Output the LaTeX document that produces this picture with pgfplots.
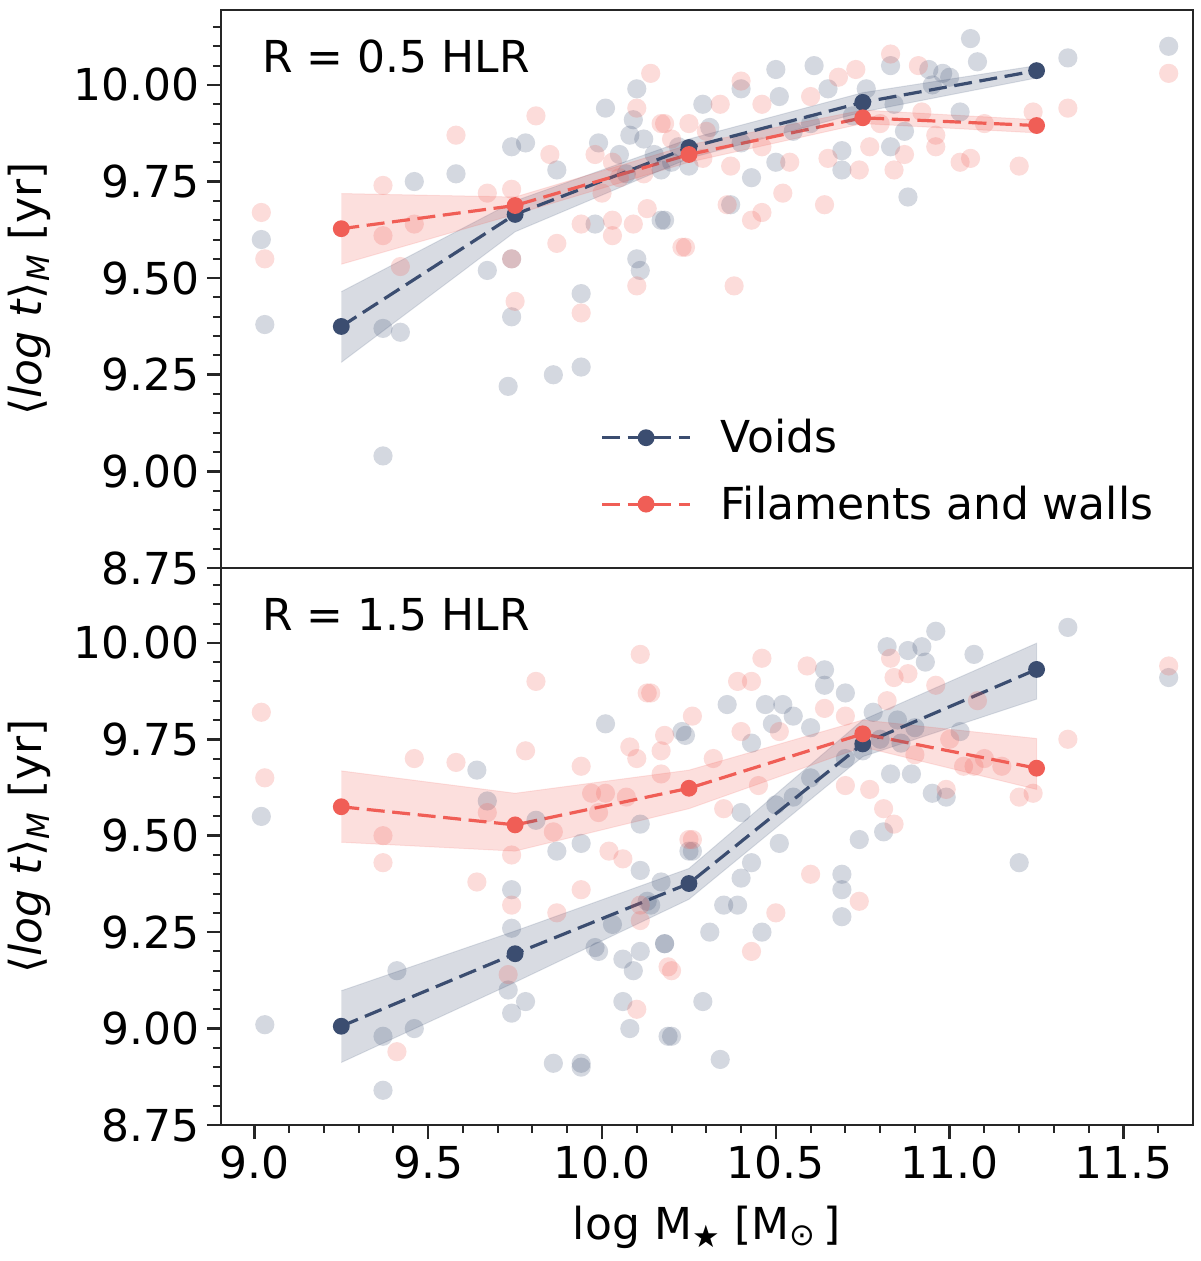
\documentclass[border=0pt]{standalone}
\usepackage{pgfplots}
\pgfplotsset{compat=1.18}
\usepackage{fontspec}
\setmainfont{DejaVu Sans}
\definecolor{navy}{RGB}{59,77,112}
\definecolor{redc}{RGB}{240,94,86}
\newcommand\fs{\fontsize{22}{26}\selectfont}
\pgfplotsset{
  panel/.style={
    scale only axis, width=486pt, anchor=south west,
    xmin=8.904, xmax=11.70, ymin=8.75, ymax=10.194,
    axis line style={line width=1pt, color=black!85},
    tick align=outside, xtick pos=bottom, ytick pos=left,
    major tick length=7pt, minor tick length=4pt,
    major tick style={line width=1.3pt, color=black!85},
    minor tick style={line width=1pt, color=black!85},
    ytick={8.75,9,9.25,9.5,9.75,10},
    minor ytick={8.8,8.85,8.9,8.95,9.05,9.1,9.15,9.2,9.3,9.35,9.4,9.45,9.55,9.6,9.65,9.7,9.8,9.85,9.9,9.95,10.05,10.1,10.15},
    yticklabel style={font=\fs, /pgf/number format/.cd, fixed, fixed zerofill, precision=2, assume math mode=true},
    xtick={9,9.5,10,10.5,11,11.5},
    minor xtick={9.1,9.2,9.3,9.4,9.6,9.7,9.8,9.9,10.1,10.2,10.3,10.4,10.6,10.7,10.8,10.9,11.1,11.2,11.3,11.4,11.6},
    xticklabel style={font=\fs, /pgf/number format/.cd, fixed, fixed zerofill, precision=1, assume math mode=true},
    ylabel={⟨\textit{log t}⟩\textsubscript{\textit{M}} [yr]},
    ylabel style={font=\fs, at={(axis description cs:-0.197,0.5)}, anchor=center, rotate=0},
    clip=true,
  },
  scat/.style={only marks, color=#1, mark=*, mark size=4.8pt, mark options={draw opacity=0, line width=0pt, fill=#1, fill opacity=0.22}, forget plot},
  band/.style={fill=#1, fill opacity=0.2, draw=#1, draw opacity=0.15, line width=0.5pt, forget plot},
  med/.style={color=#1, line width=1.6pt, dash pattern=on 9pt off 3.8pt, mark=*, mark size=3.4pt, mark options={solid, fill=#1, draw=#1}},
}
\begin{document}
\begin{tikzpicture}
% ---------------- top panel ----------------
\begin{axis}[panel, at={(110.5pt,346.5pt)}, height=279pt,
  xticklabels={}, xtick=\empty, minor xtick={},
  legend style={draw=none, fill=none, font=\fs, at={(rel axis cs:0.39,0.274)}, anchor=north west, inner sep=0pt, row sep=11pt},
  legend cell align=left,
  legend image code/.code={\draw[mark repeat=2, mark phase=2, #1] plot coordinates {(0pt,0pt) (22pt,0pt) (44pt,0pt)};},
]
\addplot[scat=navy] coordinates {
(9.02,9.60) (9.03,9.38) (9.37,9.04) (9.37,9.37) (9.42,9.36) (9.46,9.75) (9.58,9.77) (9.74,9.84) (9.78,9.85)
(9.67,9.52) (9.74,9.55) (10.10,9.55) (10.11,9.52) (9.94,9.46) (9.74,9.40) (10.01,9.94) (10.10,9.99) (10.09,9.91)
(9.87,9.78) (9.98,9.64) (10.18,9.65) (10.17,9.78) (9.99,9.85) (10.08,9.87) (10.25,9.79) (9.73,9.22) (9.86,9.25)
(9.94,9.27) (11.06,10.12) (11.34,10.07) (11.63,10.10) (11.08,10.06) (10.50,10.04) (10.61,10.05) (10.29,9.95)
(10.40,9.99) (10.51,9.97) (10.83,10.05) (10.76,9.99) (10.98,10.03) (11.03,9.93) (10.88,9.71) (10.43,9.76)
(10.37,9.69) (10.17,9.65) (10.69,9.78) (10.69,9.83) (10.83,9.84) (10.87,9.88) (10.65,9.99) (10.84,9.95)
(10.94,10.04) (10.31,9.89) (10.05,9.82) (10.12,9.86) (10.07,9.77) (10.20,9.80) (10.40,9.85) (10.55,9.88)
(10.50,9.80) (10.95,10.00) (11.00,10.02) (10.72,9.92) (10.60,9.90) (10.22,9.84) (10.15,9.82)
};
\addplot[scat=redc] coordinates {
(9.02,9.67) (9.03,9.55) (9.37,9.74) (9.37,9.61) (9.46,9.64) (9.42,9.53) (9.58,9.87) (9.67,9.72) (9.74,9.73)
(9.74,9.55) (9.75,9.44) (9.81,9.92) (9.85,9.82) (9.87,9.59) (9.94,9.41) (9.94,9.64) (10.03,9.65) (10.03,9.61)
(10.09,9.64) (10.10,9.48) (10.13,9.68) (10.14,10.03) (10.10,9.94) (10.18,9.90) (10.24,9.58) (9.98,9.82)
(10.03,9.80) (10.25,9.90) (10.83,10.08) (11.63,10.03) (11.34,9.94) (11.24,9.93) (11.20,9.79) (11.06,9.81)
(11.03,9.80) (10.96,9.84) (10.91,10.05) (10.73,10.04) (10.68,10.02) (10.40,10.01) (10.17,9.90) (10.34,9.95)
(10.46,9.95) (10.60,9.97) (10.23,9.58) (10.43,9.65) (10.46,9.67) (10.52,9.72) (10.64,9.69) (10.38,9.48)
(10.36,9.69) (10.74,9.78) (10.77,9.84) (10.84,9.78) (10.87,9.82) (10.65,9.81) (10.54,9.80) (10.29,9.81)
(10.37,9.79) (10.46,9.84) (10.96,9.87) (10.92,9.93) (10.12,9.77) (10.05,9.76) (10.20,9.86) (10.30,9.88)
(10.00,9.72) (10.80,9.90) (11.10,9.90)
};
\addplot[band=navy] coordinates {(9.25,9.465) (9.75,9.70) (10.25,9.86) (10.75,9.98) (11.25,10.05) (11.25,10.018) (10.75,9.93) (10.25,9.81) (9.75,9.62) (9.25,9.282)};
\addplot[band=redc] coordinates {(9.25,9.719) (9.75,9.71) (10.25,9.845) (10.75,9.935) (11.25,9.91) (11.25,9.876) (10.75,9.90) (10.25,9.80) (9.75,9.665) (9.25,9.536)};
\addplot[med=navy] coordinates {(9.25,9.375) (9.75,9.665) (10.25,9.838) (10.75,9.955) (11.25,10.037)};
\addlegendentry{\hspace{12.5pt}Voids}
\addplot[med=redc] coordinates {(9.25,9.628) (9.75,9.688) (10.25,9.820) (10.75,9.915) (11.25,9.895)};
\addlegendentry{\hspace{12.5pt}Filaments and walls}
\node[font=\fs, anchor=west, inner sep=0pt] at (rel axis cs:0.042,0.916) {R = 0.5 HLR};
\end{axis}
% ---------------- bottom panel ----------------
\begin{axis}[panel, at={(110.5pt,68pt)}, height=278.5pt,
  xlabel={log M\textsubscript{★} [M\textsubscript{⊙}\,]},
  xlabel style={font=\fs, at={(axis description cs:0.5,-0.145)}, anchor=north, inner sep=0pt},
]
\addplot[scat=navy] coordinates {
(9.02,9.55) (9.03,9.01) (9.64,9.67) (9.67,9.59) (9.81,9.54) (9.87,9.46) (9.94,9.48) (10.01,9.79) (10.24,9.76)
(10.11,9.53) (10.11,9.41) (9.74,9.36) (9.74,9.26) (9.73,9.10) (9.78,9.07) (9.74,9.04) (9.41,9.15) (9.37,8.98)
(9.46,9.00) (9.37,8.84) (9.86,8.91) (9.94,8.91) (9.94,8.90) (9.98,9.21) (9.99,9.20) (10.03,9.27) (10.06,9.18)
(10.09,9.15) (10.11,9.20) (10.18,9.22) (10.06,9.07) (10.08,9.00) (10.20,8.98) (10.17,9.38) (10.14,9.32)
(10.26,9.46) (11.34,10.04) (10.96,10.03) (11.07,9.97) (10.82,9.99) (10.88,9.98) (10.92,9.99) (10.93,9.95)
(10.64,9.93) (10.64,9.89) (10.70,9.87) (10.36,9.84) (10.47,9.84) (10.52,9.84) (10.55,9.81) (10.23,9.77)
(10.49,9.79) (10.60,9.78) (10.43,9.74) (10.83,9.66) (10.89,9.66) (10.95,9.61) (10.99,9.60) (11.03,9.77)
(11.63,9.91) (11.20,9.43) (10.40,9.56) (10.43,9.43) (10.40,9.39) (10.51,9.48) (10.35,9.32) (10.39,9.32)
(10.31,9.25) (10.46,9.25) (10.18,9.22) (10.29,9.07) (10.19,8.98) (10.34,8.92) (10.69,9.36) (10.69,9.40)
(10.69,9.29) (10.74,9.49) (10.81,9.51) (10.25,9.46) (10.13,9.33) (10.80,9.75) (10.85,9.80) (10.90,9.78)
(10.75,9.72) (10.70,9.70) (10.60,9.65) (10.55,9.60) (10.50,9.58) (10.78,9.82) (10.86,9.74)
};
\addplot[scat=redc] coordinates {
(9.02,9.82) (9.03,9.65) (9.46,9.70) (9.58,9.69) (9.37,9.50) (9.37,9.43) (9.64,9.38) (9.78,9.72) (9.81,9.90)
(9.74,9.45) (9.67,9.56) (9.86,9.51) (9.94,9.68) (9.94,9.36) (9.74,9.32) (9.87,9.30) (9.73,9.14) (10.11,9.97)
(10.14,9.87) (10.08,9.73) (10.18,9.76) (10.17,9.72) (10.17,9.66) (10.10,9.70) (10.26,9.81) (10.26,9.49)
(10.02,9.46) (10.06,9.44) (10.10,9.05) (10.20,9.15) (9.41,8.94) (10.11,9.32) (10.11,9.28) (9.97,9.61)
(10.01,9.61) (9.99,9.56) (10.07,9.60) (11.63,9.94) (11.34,9.75) (11.20,9.60) (11.24,9.61) (10.46,9.96)
(10.59,9.94) (10.39,9.90) (10.43,9.90) (10.13,9.87) (10.32,9.70) (10.40,9.77) (10.51,9.77) (10.64,9.83)
(10.83,9.96) (10.84,9.91) (10.88,9.92) (10.96,9.89) (10.82,9.85) (11.08,9.85) (10.99,9.62) (11.04,9.68)
(11.07,9.68) (10.90,9.71) (10.70,9.63) (10.77,9.62) (10.81,9.57) (10.84,9.53) (10.60,9.40) (10.74,9.33)
(10.50,9.30) (10.43,9.20) (10.19,9.16) (10.25,9.49) (10.35,9.57) (10.45,9.63) (10.70,9.81) (11.10,9.70)
(11.15,9.68) (11.00,9.75)
};
\addplot[band=navy] coordinates {(9.25,9.098) (9.75,9.253) (10.25,9.415) (10.75,9.80) (11.25,9.999) (11.25,9.854) (10.75,9.705) (10.25,9.335) (9.75,9.12) (9.25,8.912)};
\addplot[band=redc] coordinates {(9.25,9.668) (9.75,9.61) (10.25,9.67) (10.75,9.80) (11.25,9.752) (11.25,9.62) (10.75,9.73) (10.25,9.57) (9.75,9.46) (9.25,9.483)};
\addplot[med=navy] coordinates {(9.25,9.006) (9.75,9.194) (10.25,9.376) (10.75,9.738) (11.25,9.931)};
\addplot[med=redc] coordinates {(9.25,9.575) (9.75,9.528) (10.25,9.623) (10.75,9.764) (11.25,9.675)};
\node[font=\fs, anchor=west, inner sep=0pt] at (rel axis cs:0.042,0.9156) {R = 1.5 HLR};
\end{axis}
\pgfresetboundingbox
\useasboundingbox (0,0) rectangle (600pt,630.5pt);
\end{tikzpicture}
\end{document}
